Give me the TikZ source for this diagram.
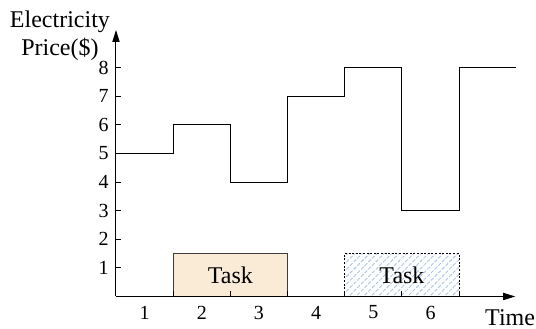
\documentclass[tikz,border=0pt]{standalone}
\usepackage{fontspec}
\setmainfont{Liberation Serif}
\usetikzlibrary{arrows.meta}
\usetikzlibrary{patterns.meta}
\definecolor{taskfill}{RGB}{250,235,215}
\definecolor{hatchblue}{RGB}{170,195,228}
\definecolor{boxgray}{RGB}{60,60,60}
\tikzset{
  axisline/.style={line width=0.5pt, -{Triangle[length=6pt,width=3.6pt]}},
  pricecurve/.style={line width=0.5pt},
  tickmark/.style={line width=0.5pt},
  ticklabel/.style={inner sep=0pt, font=\fontsize{10}{12}\selectfont},
  axislabel/.style={inner sep=0pt, font=\fontsize{12}{14}\selectfont},
  fixedtask/.style={draw=boxgray, line width=0.5pt, fill=taskfill},
  movedtask/.style={draw=black, line width=0.4pt, dash pattern=on 1pt off 0.8pt,
    pattern={Lines[angle=45, distance=2.6pt, line width=0.45pt]}, pattern color=hatchblue}
}

\begin{document}
\begin{tikzpicture}[x=28.6pt, y=14.3pt]
  \useasboundingbox (-2.028,-1.136) rectangle (7.343,10.367);
  \draw[fixedtask] (1,0) rectangle (3,1.5) node[midway, axislabel] (task1) {Task};
  \draw[movedtask] (4,0) rectangle (6,1.5) node[midway, axislabel] (task2) {Task};
  \coordinate (O) at (0,0);
  \coordinate (xend) at (6.98,0);
  \coordinate (yend) at (0,9.32);
  \draw[axisline] (O) -- (xend);
  \draw[axisline] (O) -- (yend);
  \foreach \y in {1,...,8} {
    \draw[tickmark] (0,\y) -- (0.087,\y);
    \node[ticklabel, anchor=east] (ylab\y) at (-0.12,\y) {\y};
  }
  \foreach \x in {1,...,6} {
    \draw[tickmark] (\x,0) -- (\x,0.175);
    \node[ticklabel] (xlab\x) at (\x-0.5,-0.56) {\x};
  }
  \draw[pricecurve] (0,5) -- (1,5) -- (1,6) -- (2,6) -- (2,4) -- (3,4) -- (3,7)
    -- (4,7) -- (4,8) -- (5,8) -- (5,3) -- (6,3) -- (6,8) -- (7,8);
  \node[axislabel, align=center, anchor=base] (ylabel) at (-0.98,8.44) {Electricity\\Price(\$)};
  \node[axislabel, anchor=base] (xlabel) at (6.89,-1.0) {Time};
\end{tikzpicture}
\end{document}
